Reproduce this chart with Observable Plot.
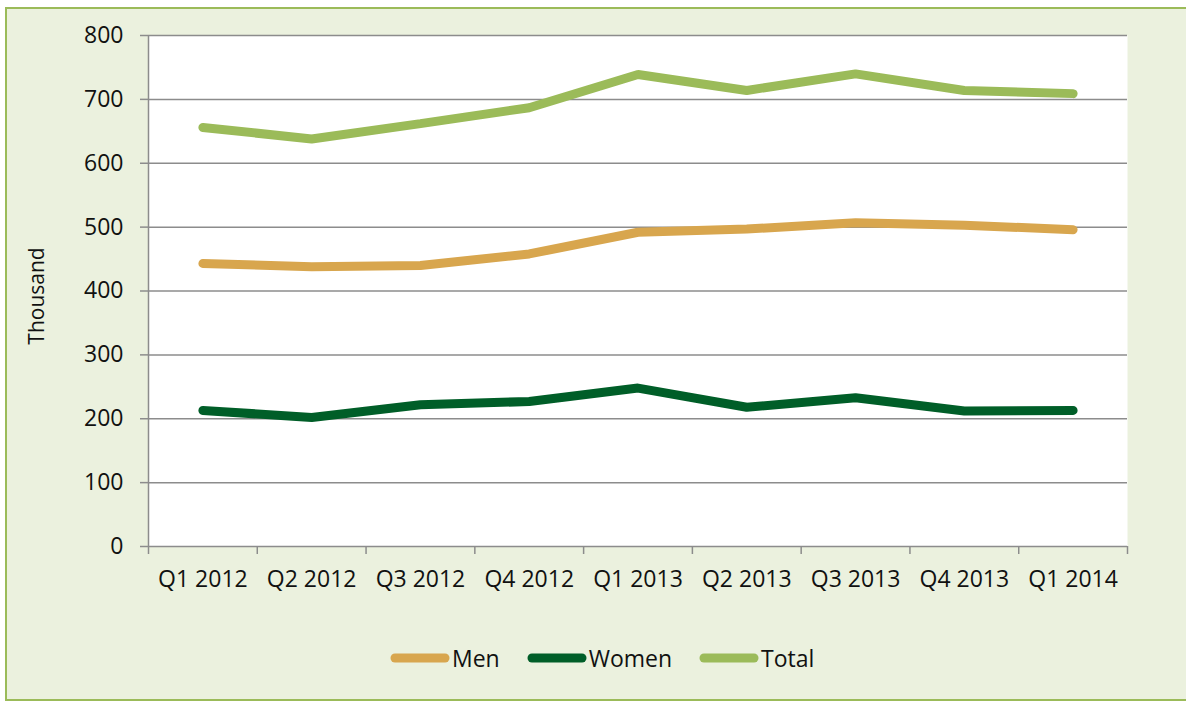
<!DOCTYPE html>
<html>
<head>
<meta charset="utf-8">
<script src="https://cdn.jsdelivr.net/npm/d3@7"></script>
<script src="https://cdn.jsdelivr.net/npm/@observablehq/plot@0.6"></script>
<style>
  html, body { margin: 0; padding: 0; overflow: hidden; background: #ffffff; width: 1186px; height: 701px; }
  #bg { position: absolute; left: 5px; top: 7px; width: 1190px; height: 694px; background: #EBF1DE; border: 2px solid #9BBB59; box-sizing: border-box; }
  #chart { position: absolute; left: 0; top: 0; }
  #legend { position: absolute; left: 390px; top: 642px; display: flex; align-items: center; font-family: "Open Sans", sans-serif; font-size: 23px; color: #111; }
  #legend .item { display: flex; align-items: center; margin-right: 27px; }
  #legend svg { display: block; margin-right: 2px; }
</style>
</head>
<body>
<div id="bg"></div>
<div id="chart"></div>
<div id="legend"></div>
<script>
const categories = ["Q1 2012","Q2 2012","Q3 2012","Q4 2012","Q1 2013","Q2 2013","Q3 2013","Q4 2013","Q1 2014"];
const men   = [443, 438, 440, 458, 492, 497, 507, 503, 496];
const women = [213, 202, 222, 227, 248, 218, 233, 212, 213];
const total = [656, 638, 662, 687, 739, 714, 740, 714, 709];
const yTicks = [0, 100, 200, 300, 400, 500, 600, 700, 800];
const seriesNames = ["Men", "Women", "Total"];
const seriesColors = ["#D8A64E", "#005E28", "#9BBB59"];

const seriesValues = [men, women, total];
const rows = [];
seriesNames.forEach((s, k) => {
  seriesValues[k].forEach((v, i) => rows.push({series: s, i: i + 0.5, value: v}));
});

const plot = Plot.plot({
  width: 1186,
  height: 620,
  marginLeft: 148,
  marginRight: 59,
  marginTop: 35,
  marginBottom: 74,
  style: {background: "transparent", fontFamily: "'Open Sans', sans-serif", fontSize: "23px", color: "#111"},
  x: {type: "linear", domain: [0, categories.length], label: null},
  y: {domain: [0, 800], label: null},
  color: {domain: seriesNames, range: seriesColors},
  marks: [
    Plot.frame({fill: "white", stroke: null}),
    Plot.ruleY(yTicks, {stroke: "#8c8c8c", strokeWidth: 1.5}),
    Plot.ruleX([0], {stroke: "#8c8c8c", strokeWidth: 1.5}),
    Plot.axisY({ticks: yTicks, tickSize: 8, tickPadding: 17, stroke: "#8c8c8c", strokeWidth: 1.5, fontSize: 23, label: null}),
    Plot.axisX({ticks: d3.range(0, categories.length + 1), tickFormat: () => "", tickSize: 8, stroke: "#8c8c8c", strokeWidth: 1.5, label: null}),
    Plot.axisX({ticks: d3.range(categories.length).map(i => i + 0.5), tickFormat: v => categories[Math.floor(v)], tickSize: 0, tickPadding: 24, fontSize: 23, label: null}),
    Plot.line(rows, {x: "i", y: "value", z: "series", stroke: "series", strokeWidth: 9, strokeLinecap: "round", strokeLinejoin: "miter"}),
    Plot.text(["Thousand"], {frameAnchor: "left", textAnchor: "middle", rotate: -90, dx: -111, dy: 5, fontSize: 21, fill: "#111"})
  ]
});
document.getElementById("chart").appendChild(plot);

const legend = document.getElementById("legend");
seriesNames.forEach((s, k) => {
  const item = document.createElement("div");
  item.className = "item";
  item.innerHTML = `<svg width="60" height="12"><line x1="5" y1="6" x2="55" y2="6" stroke="${seriesColors[k]}" stroke-width="9" stroke-linecap="round"/></svg><span>${s}</span>`;
  legend.appendChild(item);
});
</script>
</body>
</html>
